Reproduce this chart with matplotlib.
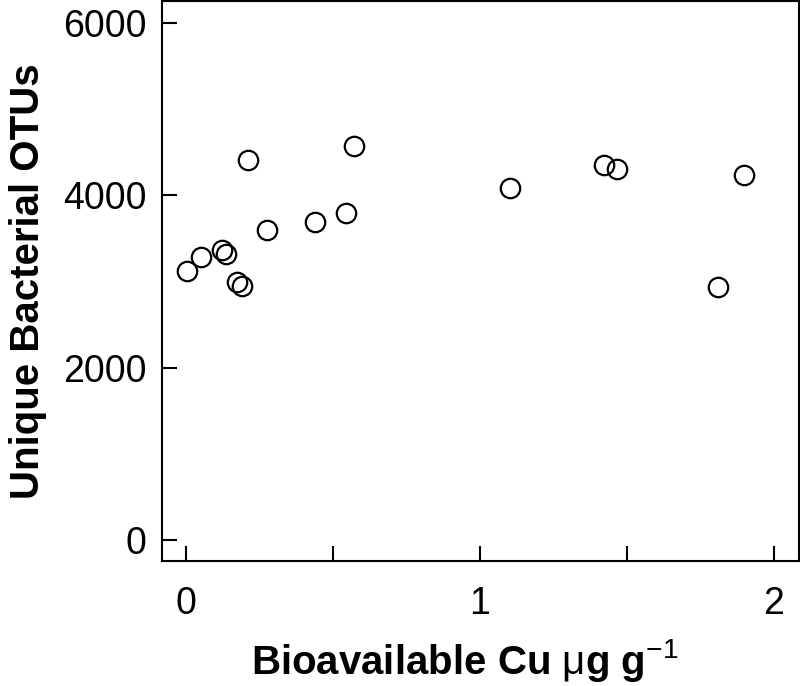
import matplotlib
matplotlib.use("Agg")
import matplotlib.pyplot as plt
from matplotlib.ticker import FixedLocator

plt.rcParams['font.family'] = ['Liberation Sans', 'DejaVu Sans']
plt.rcParams['mathtext.fontset'] = 'custom'
plt.rcParams['mathtext.rm'] = 'Liberation Sans'
plt.rcParams['mathtext.bf'] = 'Liberation Sans:bold'

# Data
cu = [0.004, 0.05, 0.123, 0.137, 0.175, 0.192, 0.211, 0.277, 0.438, 0.543,
      0.573, 1.103, 1.423, 1.467, 1.812, 1.901]
otus = [3118, 3286, 3370, 3322, 2993, 2949, 4408, 3601, 3685, 3800,
        4568, 4080, 4346, 4310, 2940, 4239]

x_major = [0, 1, 2]
x_minor = [0.5, 1.5]
y_major = [0, 2000, 4000, 6000]

fig = plt.figure(figsize=(8.0, 6.86), dpi=100)
ax = fig.add_axes([0.2025, 0.182, 0.796, 0.8165])

ax.plot(cu, otus, linestyle='none', marker='o', markersize=14,
        markerfacecolor='none', markeredgecolor='black', markeredgewidth=1.6)

ax.set_xlim(-0.082, 2.086)
ax.set_ylim(-244, 6253)
ax.xaxis.set_major_locator(FixedLocator(x_major))
ax.xaxis.set_minor_locator(FixedLocator(x_minor))
ax.yaxis.set_major_locator(FixedLocator(y_major))
ax.set_xticklabels([str(v) for v in x_major])
ax.set_yticklabels([str(v) for v in y_major])

for s in ax.spines.values():
    s.set_linewidth(1.5)

ax.tick_params(axis='both', which='both', direction='in', length=11, width=1.5,
               labelsize=27)
ax.tick_params(axis='y', pad=11)
ax.tick_params(axis='x', pad=18)

ax.set_ylabel('Unique Bacterial OTUs', fontsize=29, fontweight='bold', labelpad=12)
ax.set_xlabel(r'Bioavailable Cu $\mathrm{\mu}$g g$^{-1}$', fontsize=29,
              fontweight='bold', labelpad=12)
ax.xaxis.set_label_coords(0.476, -0.135)

fig.savefig('out.png', dpi=100)
